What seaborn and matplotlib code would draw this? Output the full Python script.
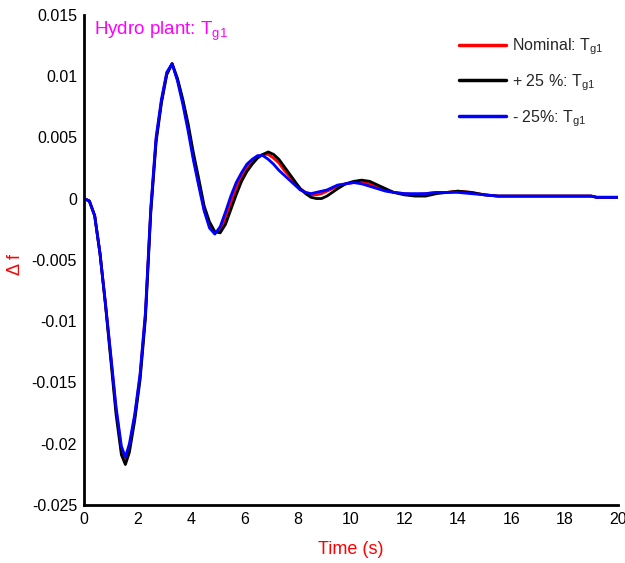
import numpy as np
import pandas as pd
import matplotlib
matplotlib.use("Agg")
import matplotlib.pyplot as plt
from matplotlib.ticker import FuncFormatter
import seaborn as sns

# Frequency deviation of the hydro plant for nominal and +/-25 % T_g1
time = [0, 0.2, 0.4, 0.6, 0.8, 1.0, 1.2, 1.4, 1.55, 1.7, 1.9, 2.1, 2.3, 2.5, 2.7,
        2.9, 3.1, 3.3, 3.5, 3.7, 3.9, 4.1, 4.3, 4.5, 4.7, 4.9, 5.1, 5.3, 5.5, 5.7,
        5.9, 6.1, 6.3, 6.5, 6.7, 6.9, 7.1, 7.3, 7.5, 7.7, 7.9, 8.1, 8.3, 8.5, 8.7,
        8.9, 9.1, 9.3, 9.5, 9.8, 10.1, 10.4, 10.7, 11.0, 11.3, 11.6, 12.0, 12.4,
        12.8, 13.2, 13.6, 14.0, 14.5, 15.0, 15.5, 16, 17, 18, 19, 19.2, 20]

df_nominal = [0, -0.0002, -0.0014, -0.0045, -0.0085, -0.0128, -0.0172, -0.0205,
              -0.0214, -0.0203, -0.0178, -0.0145, -0.0095, -0.0010, 0.0048,
              0.0079, 0.0102, 0.0110, 0.0097, 0.0079, 0.0058, 0.0033, 0.0012,
              -0.0009, -0.0022, -0.0028, -0.0026, -0.0016, -0.0003, 0.0009,
              0.0018, 0.0025, 0.0031, 0.0034, 0.0036, 0.0036, 0.0033, 0.0029,
              0.0023, 0.0018, 0.0013, 0.0008, 0.0005, 0.0003, 0.0003, 0.0004,
              0.0006, 0.0008, 0.0010, 0.0012, 0.0013, 0.0013, 0.0012, 0.0009,
              0.0007, 0.0005, 0.0004, 0.0003, 0.0004, 0.0005, 0.0005, 0.0006,
              0.0005, 0.0003, 0.0002, 0.0002, 0.0002, 0.0002, 0.0002, 0.0001,
              0.0001]

df_plus25 = [0, -0.0002, -0.0014, -0.0045, -0.0086, -0.0131, -0.0176, -0.0209,
             -0.0217, -0.0207, -0.0181, -0.0148, -0.0098, -0.0012, 0.0046,
             0.0078, 0.0101, 0.0110, 0.0098, 0.0081, 0.0061, 0.0037, 0.0016,
             -0.0006, -0.0019, -0.0027, -0.0028, -0.0021, -0.0009, 0.0003,
             0.0014, 0.0022, 0.0028, 0.0033, 0.0036, 0.0038, 0.0036, 0.0032,
             0.0026, 0.0020, 0.0014, 0.0008, 0.0004, 0.0001, 0.0000, 0.0000,
             0.0002, 0.0005, 0.0008, 0.0012, 0.0014, 0.0015, 0.0014, 0.0011,
             0.0008, 0.0005, 0.0003, 0.0002, 0.0002, 0.0004, 0.0005, 0.0006,
             0.0005, 0.0003, 0.0002, 0.0002, 0.0002, 0.0002, 0.0002, 0.0001,
             0.0001]

df_minus25 = [0, -0.0002, -0.0014, -0.0045, -0.0085, -0.0127, -0.0170, -0.0202,
              -0.0211, -0.0200, -0.0176, -0.0143, -0.0093, -0.0008, 0.0050,
              0.0081, 0.0103, 0.0110, 0.0096, 0.0077, 0.0055, 0.0031, 0.0010,
              -0.0010, -0.0024, -0.0029, -0.0023, -0.0011, 0.0002, 0.0013,
              0.0021, 0.0028, 0.0032, 0.0035, 0.0035, 0.0032, 0.0028, 0.0023,
              0.0019, 0.0015, 0.0011, 0.0007, 0.0005, 0.0004, 0.0005, 0.0006,
              0.0007, 0.0009, 0.0011, 0.0012, 0.0013, 0.0012, 0.0010, 0.0008,
              0.0006, 0.0005, 0.0004, 0.0004, 0.0004, 0.0005, 0.0005, 0.0005,
              0.0004, 0.0003, 0.0002, 0.0002, 0.0002, 0.0002, 0.0002, 0.0001,
              0.0001]

series_labels = [r"Nominal: T$_{\mathrm{g1}}$",
                 r"+ 25 %: T$_{\mathrm{g1}}$",
                 r"- 25%: T$_{\mathrm{g1}}$"]
series_colors = ["#ff0000", "#000000", "#0000ff"]

x_ticks = list(range(0, 21, 2))
y_ticks = [-0.025, -0.02, -0.015, -0.01, -0.005, 0, 0.005, 0.01, 0.015]

frames = []
for label, vals in zip(series_labels, [df_nominal, df_plus25, df_minus25]):
    frames.append(pd.DataFrame({"Time": time, "df": vals, "case": label}))
data = pd.concat(frames, ignore_index=True)

sns.set_style("white")
plt.rcParams["font.family"] = ["Liberation Sans", "DejaVu Sans"]
plt.rcParams["mathtext.fontset"] = "custom"
plt.rcParams["mathtext.rm"] = "Liberation Sans"
plt.rcParams["mathtext.it"] = "Liberation Sans:italic"

fig = plt.figure(figsize=(6.25, 5.63), dpi=100)
ax = fig.add_axes([0.1344, 0.103, 0.8544, 0.871])

sns.lineplot(data=data, x="Time", y="df", hue="case", hue_order=series_labels,
             palette=dict(zip(series_labels, series_colors)), linewidth=2.0,
             sort=False, estimator=None, ax=ax)

ax.set_xlim(0, 20)
ax.set_ylim(-0.025, 0.015)
ax.set_xticks(x_ticks)
ax.set_yticks(y_ticks)
ax.yaxis.set_major_formatter(FuncFormatter(lambda v, p: f"{v:g}"))
ax.xaxis.set_major_formatter(FuncFormatter(lambda v, p: f"{v:g}"))

for side in ["top", "right"]:
    ax.spines[side].set_visible(False)
for side in ["left", "bottom"]:
    ax.spines[side].set_linewidth(2.0)
    ax.spines[side].set_color("black")
ax.tick_params(direction="in", length=5, width=2.0, labelsize=11.5,
               colors="black", pad=5)

ax.set_xlabel("Time (s)", color="red", fontsize=13, labelpad=10)
ax.set_ylabel("\u0394 f", color="red", fontsize=13)
ax.yaxis.set_label_coords(-0.113, 0.49)

ax.text(0.38, 0.0146, r"Hydro plant: T$_{\mathrm{g1}}$", color="#ff00ff",
        fontsize=13.5, va="top", ha="left")

leg = ax.legend(loc="upper right", bbox_to_anchor=(1.0, 0.985), frameon=False,
                fontsize=11.5, handlelength=2.9, handletextpad=0.4,
                labelspacing=0.95)
for line in leg.get_lines():
    line.set_linewidth(2.5)

fig.savefig("out.png", dpi=100)
